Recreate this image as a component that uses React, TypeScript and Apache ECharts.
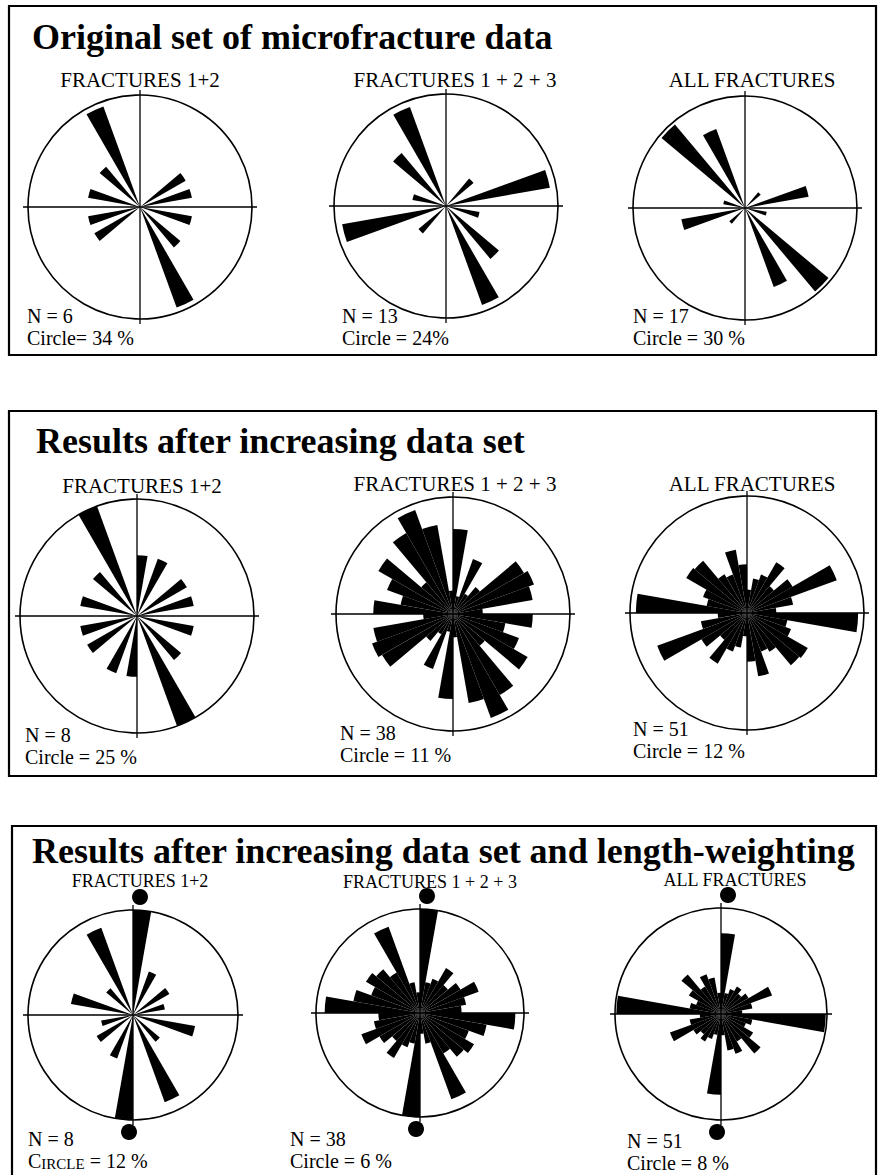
import React, { useEffect, useRef } from "react";
import * as echarts from "echarts";

// 10-degree azimuth bins (strike directions, clockwise from north)
const CATEGORIES = [
  "0°", "10°", "20°", "30°", "40°", "50°", "60°", "70°", "80°",
  "90°", "100°", "110°", "120°", "130°", "140°", "150°", "160°", "170°",
  "180°", "190°", "200°", "210°", "220°", "230°", "240°", "250°", "260°",
  "270°", "280°", "290°", "300°", "310°", "320°", "330°", "340°", "350°",
];

// Percent per bin for 0-180°; rose diagrams of strikes are axial (bin + 180° is the same)
const ORIG_F12 = [0, 0, 0, 0, 0, 16, 0, 16, 0, 0, 16, 0, 0, 16, 0, 32.5, 0, 0];
const ORIG_F123 = [0, 0, 0, 0, 7.7, 0, 0, 22.6, 0, 0, 7.3, 0, 0, 14.8, 0, 22.6, 0, 0];
const ORIG_ALL = [0, 0, 0, 0, 5.5, 0, 0, 17.3, 0, 0, 5.9, 0, 0, 29.2, 0, 22.5, 0, 0];

const INC_F12 = [13, 0, 13, 0, 0, 12.3, 0, 12.3, 0, 0, 12.3, 0, 0, 12.3, 0, 25, 0, 0];
const INC_F123 = [8.0, 1.7, 5.5, 2.2, 3.3, 7.7, 8.1, 7.6, 2.8, 7.5, 5.0, 6.6, 8.1, 3.9, 8.8, 10.4, 8.5, 2.2];
const INC_ALL = [2.4, 3.6, 4.2, 6.0, 3.6, 5.4, 9.8, 4.8, 3.0, 11.4, 4.2, 4.8, 7.2, 7.0, 4.6, 4.2, 6.6, 5.0];

const LW_F12 = [12, 0, 5.3, 0, 0, 4.8, 0, 3.7, 0, 0, 7.2, 0, 0, 4.0, 0, 10.6, 0, 0];
const LW_F123 = [6.2, 1.8, 2.1, 3.0, 2.1, 2.7, 3.6, 2.7, 2.4, 5.5, 3.9, 3.0, 3.6, 3.3, 2.7, 5.3, 1.8, 1.2];
const LW_ALL = [6.1, 1.6, 2.0, 2.4, 2.0, 2.4, 4.1, 2.4, 1.6, 7.9, 2.4, 2.0, 2.8, 3.9, 2.4, 3.2, 2.8, 1.6];

const ROSE_DATA = [ORIG_F12, ORIG_F123, ORIG_ALL, INC_F12, INC_F123, INC_ALL, LW_F12, LW_F123, LW_ALL];
const CIRCLE_PCT = [34, 24, 30, 25, 11, 12, 12, 6, 8];

const PANEL_TITLES = [
  "Original set of microfracture data",
  "Results after increasing data set",
  "Results after increasing data set and length-weighting",
];
const SUBTITLES = [
  "FRACTURES 1+2", "FRACTURES 1 + 2 + 3", "ALL FRACTURES",
  "FRACTURES 1+2", "FRACTURES 1 + 2 + 3", "ALL FRACTURES",
  "FRACTURES 1+2", "FRACTURES 1 + 2 + 3", "ALL FRACTURES",
];
const N_LABELS = ["N = 6", "N = 13", "N = 17", "N = 8", "N = 38", "N = 51", "N = 8", "N = 38", "N = 51"];
const CIRCLE_LABELS = [
  "Circle= 34 %", "Circle = 24%", "Circle = 30 %",
  "Circle = 25 %", "Circle = 11 %", "Circle = 12 %",
  "", "Circle = 6 %", "Circle = 8 %",
];

// layout (pixels)
const LAYOUT = [
  { cx: 140, cy: 207, r: 112, sx: 140, sy: 80, sf: 21, lx: 27, ly: 316 },
  { cx: 446, cy: 206, r: 112, sx: 455, sy: 80, sf: 21, lx: 342, ly: 316 },
  { cx: 745, cy: 208, r: 112, sx: 752, sy: 80, sf: 21, lx: 633, ly: 316 },
  { cx: 137, cy: 616, r: 117, sx: 142, sy: 486, sf: 21, lx: 25, ly: 735 },
  { cx: 453, cy: 614, r: 117, sx: 455, sy: 484, sf: 21, lx: 340, ly: 733 },
  { cx: 747, cy: 613, r: 117, sx: 752, sy: 484, sf: 21, lx: 633, ly: 729 },
  { cx: 133, cy: 1015, r: 105, sx: 140, sy: 881, sf: 18, lx: 28, ly: 1139 },
  { cx: 420, cy: 1013, r: 104, sx: 430, sy: 882, sf: 18, lx: 290, ly: 1139 },
  { cx: 721, cy: 1014, r: 106, sx: 735, sy: 880, sf: 18, lx: 627, ly: 1141 },
];
const BOXES = [
  { x: 9, y: 6, w: 867, h: 349, tx: 32, ty: 37 },
  { x: 9, y: 411, w: 867, h: 365, tx: 36, ty: 441 },
  { x: 12, y: 826, w: 864, h: 420, tx: 32, ty: 851 },
];

const SERIF = '"Liberation Serif", "Times New Roman", serif';
const LABEL_FS = 20;
const LINE_GAP = 22;

export default function App() {
  const ref = useRef<HTMLDivElement>(null);
  useEffect(() => {
    if (!ref.current) return;
    const chart = echarts.init(ref.current, undefined, { renderer: "svg" });

    const polar: any[] = [];
    const angleAxis: any[] = [];
    const radiusAxis: any[] = [];
    const series: any[] = [];
    const graphic: any[] = [];

    LAYOUT.forEach((L, i) => {
      const pIdx = polar.length;
      polar.push({ center: [L.cx, L.cy], radius: L.r });
      polar.push({ center: [L.cx, L.cy], radius: L.r + 5 });
      angleAxis.push({
        polarIndex: pIdx,
        type: "category",
        data: CATEGORIES,
        startAngle: 90,
        clockwise: true,
        boundaryGap: true,
        axisLine: { show: true, lineStyle: { color: "#000", width: 1.6 } },
        axisTick: { show: false },
        axisLabel: { show: false },
        splitLine: { show: false },
      });
      angleAxis.push({
        polarIndex: pIdx + 1,
        type: "value",
        min: 0,
        max: 360,
        interval: 90,
        startAngle: 90,
        clockwise: true,
        axisLine: { show: false },
        axisTick: { show: false },
        axisLabel: { show: false },
        splitLine: { show: true, lineStyle: { color: "#000", width: 1.3 } },
      });
      radiusAxis.push({
        polarIndex: pIdx,
        type: "value",
        min: 0,
        max: CIRCLE_PCT[i],
        axisLine: { show: false },
        axisTick: { show: false },
        axisLabel: { show: false },
        splitLine: { show: false },
      });
      radiusAxis.push({
        polarIndex: pIdx + 1,
        type: "value",
        min: 0,
        max: 1,
        axisLine: { show: false },
        axisTick: { show: false },
        axisLabel: { show: false },
        splitLine: { show: false },
      });
      const half = ROSE_DATA[i];
      series.push({
        type: "bar",
        coordinateSystem: "polar",
        polarIndex: pIdx,
        data: [...half, ...half],
        barCategoryGap: "0%",
        itemStyle: { color: "#000" },
        z: 3,
      });

      graphic.push({
        type: "text",
        style: {
          text: SUBTITLES[i], x: L.sx, y: L.sy, align: "center", verticalAlign: "middle",
          font: `${L.sf}px ${SERIF}`, fill: "#000",
        },
      });
      graphic.push({
        type: "text",
        style: {
          text: N_LABELS[i], x: L.lx, y: L.ly, align: "left", verticalAlign: "middle",
          font: `${LABEL_FS}px ${SERIF}`, fill: "#000",
        },
      });
      if (CIRCLE_LABELS[i]) {
        graphic.push({
          type: "text",
          style: {
            text: CIRCLE_LABELS[i], x: L.lx, y: L.ly + LINE_GAP, align: "left", verticalAlign: "middle",
            font: `${LABEL_FS}px ${SERIF}`, fill: "#000",
          },
        });
      } else {
        graphic.push({
          type: "text",
          style: {
            text: "{b|C}{s|IRCLE}{b| = 12 %}", x: L.lx, y: L.ly + LINE_GAP, align: "left", verticalAlign: "middle",
            font: `${LABEL_FS}px ${SERIF}`, fill: "#000",
            rich: {
              b: { fontFamily: SERIF, fontSize: LABEL_FS, fill: "#000" },
              s: { fontFamily: SERIF, fontSize: 15, fill: "#000", verticalAlign: "bottom", padding: [4, 0, 0, 0] },
            },
          },
        });
      }
      if (i >= 6) {
        graphic.push({ type: "circle", shape: { cx: L.cx + 7, cy: L.cy - L.r - 13, r: 8 }, style: { fill: "#000" } });
        graphic.push({ type: "circle", shape: { cx: L.cx - 4, cy: L.cy + L.r + 12, r: 8 }, style: { fill: "#000" } });
      }
    });

    BOXES.forEach((B, k) => {
      graphic.push({
        type: "rect",
        shape: { x: B.x, y: B.y, width: B.w, height: B.h },
        style: { fill: "none", stroke: "#000", lineWidth: 2.2 },
        z: -1,
      });
      graphic.push({
        type: "text",
        style: {
          text: PANEL_TITLES[k], x: B.tx, y: B.ty, align: "left", verticalAlign: "middle",
          font: `bold 36px ${SERIF}`, fill: "#000",
        },
      });
    });

    chart.setOption({
      animation: false,
      backgroundColor: "#fff",
      polar,
      angleAxis,
      radiusAxis,
      series,
      graphic,
    });
    return () => chart.dispose();
  }, []);
  return (
    <div
      ref={ref}
      style={{ position: "absolute", left: 0, top: 0, width: 881, height: 1175 }}
    />
  );
}
